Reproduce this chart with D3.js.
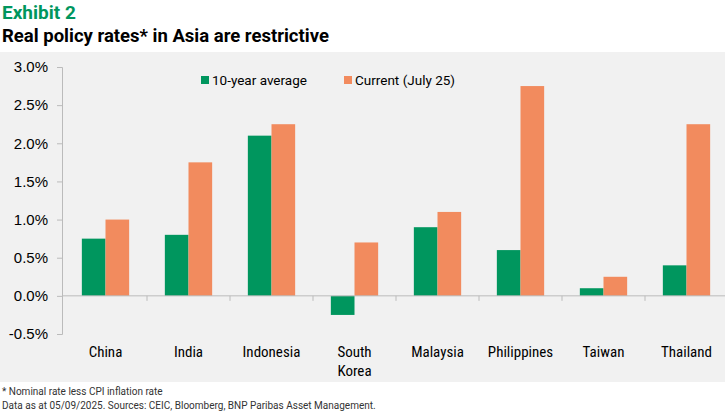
<!DOCTYPE html>
<html><head><meta charset="utf-8">
<script src="https://cdn.jsdelivr.net/npm/d3@7"></script>
<style>body{margin:0;background:#fff;font-family:Roboto,sans-serif}</style>
</head><body><svg id="c" width="725" height="413"></svg>
<script>
const data = [
  { name: "China", avg: 0.75, cur: 1.0 },
  { name: "India", avg: 0.8, cur: 1.75 },
  { name: "Indonesia", avg: 2.1, cur: 2.25 },
  { name: "South Korea", avg: -0.25, cur: 0.7 },
  { name: "Malaysia", avg: 0.9, cur: 1.1 },
  { name: "Philippines", avg: 0.6, cur: 2.75 },
  { name: "Taiwan", avg: 0.1, cur: 0.25 },
  { name: "Thailand", avg: 0.4, cur: 2.25 }
];
const series = [
  { key: "avg", label: "10-year average", color: "#00965e" },
  { key: "cur", label: "Current (July 25)", color: "#f28b5e" }
];
const svg = d3.select("#c");
svg.append("rect").attr("x", 0).attr("y", 52).attr("width", 725).attr("height", 330).attr("fill", "#f1f1f1");
svg.append("text").attr("x", 2).attr("y", 19).attr("fill", "#00965e").attr("font-size", 19).attr("font-weight", "bold").text("Exhibit 2");
svg.append("text").attr("x", 2).attr("y", 42).attr("fill", "#000").attr("font-size", 18.5).attr("font-weight", "bold").text("Real policy rates* in Asia are restrictive");

const x = d3.scaleBand().domain(data.map(d => d.name)).range([64, 728]).paddingInner(0.43).paddingOuter(0.215);
const x1 = d3.scaleBand().domain(series.map(s => s.key)).range([0, x.bandwidth()]);
const y = d3.scaleLinear().domain([-0.5, 3]).range([334, 67]);

const yAxis = svg.append("g").attr("transform", "translate(62,0)")
  .call(d3.axisLeft(y).tickValues(d3.range(-0.5, 3.01, 0.5)).tickFormat(d3.format(".1%")).tickSize(5).tickFormat(d => d.toFixed(1) + "%"));
yAxis.select(".domain").attr("stroke", "#bbb");
yAxis.selectAll(".tick line").attr("stroke", "#bbb");
yAxis.selectAll("text").attr("font-size", 15).attr("fill", "#000").attr("x", -14);

const g = svg.append("g");
data.forEach(d => {
  series.forEach(s => {
    const v = d[s.key];
    g.append("rect")
      .attr("x", x(d.name) + x1(s.key))
      .attr("y", y(Math.max(0, v)))
      .attr("width", x1.bandwidth())
      .attr("height", Math.abs(y(v) - y(0)))
      .attr("fill", s.color);
  });
});

const xAxis = svg.append("g").attr("transform", `translate(0,${y(0)})`)
  .call(d3.axisBottom(x).tickSize(0).tickFormat(""));
xAxis.select(".domain").attr("stroke", "#bbb").attr("d", `M62,0H728`);
const step = x.step();
d3.range(1, 8).forEach(i => {
  svg.append("line").attr("x1", 64 + i * step).attr("x2", 64 + i * step)
    .attr("y1", y(0)).attr("y2", y(0) + 5).attr("stroke", "#bbb");
});

data.forEach(d => {
  const t = svg.append("text").attr("text-anchor", "middle").attr("font-size", 15).attr("fill", "#000")
    .attr("font-family", "Roboto Condensed, Roboto, sans-serif");
  const cx = x(d.name) + x.bandwidth() / 2;
  const words = d.name === "South Korea" ? ["South", "Korea"] : [d.name];
  words.forEach((w, i) => t.append("tspan").attr("x", cx).attr("y", 357 + i * 19).text(w));
});

const leg = svg.append("g");
[[201, 0], [344, 1]].forEach(([lx, i]) => {
  leg.append("rect").attr("x", lx).attr("y", 76).attr("width", 8).attr("height", 8).attr("fill", series[i].color);
  leg.append("text").attr("x", lx + 11).attr("y", 85).attr("font-size", 13.5).attr("fill", "#000").text(series[i].label);
});

svg.append("text").attr("x", 2).attr("y", 395).attr("font-size", 10).attr("fill", "#333").text("* Nominal rate less CPI inflation rate");
svg.append("text").attr("x", 2).attr("y", 409).attr("font-size", 10).attr("fill", "#333").text("Data as at 05/09/2025.  Sources: CEIC, Bloomberg, BNP Paribas Asset Management.");
</script></body></html>
